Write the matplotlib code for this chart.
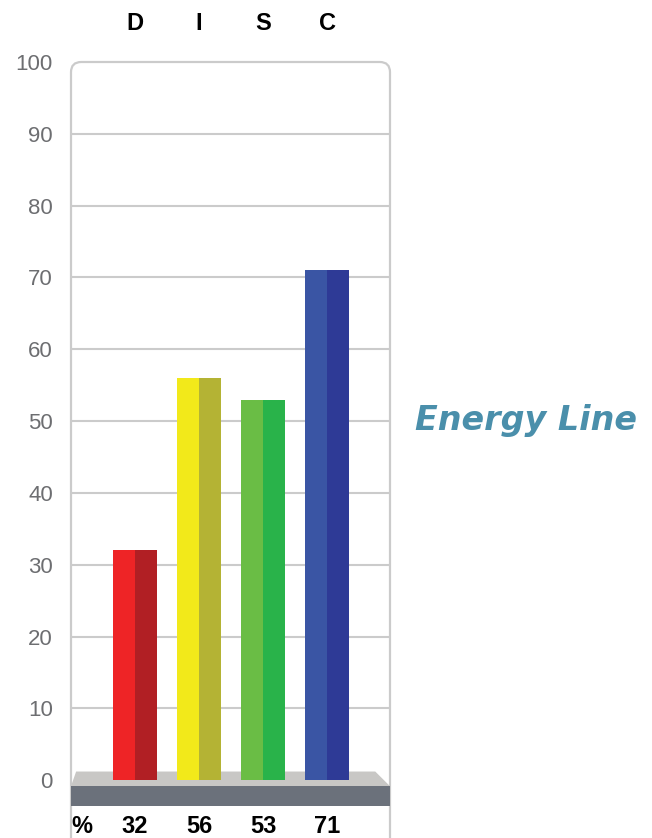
import matplotlib.pyplot as plt
from matplotlib.patches import FancyBboxPatch, Polygon, Rectangle
from matplotlib.transforms import blended_transform_factory

plt.rcParams['font.family'] = ['Liberation Sans', 'DejaVu Sans']

letters = ['D', 'I', 'S', 'C']
scores = [32, 56, 53, 71]
light_cols = ['#ee2426', '#f2e91a', '#6abd45', '#3a55a4']
dark_cols = ['#b11f24', '#b4b334', '#29b34a', '#2e3a96']
yticks = list(range(0, 101, 10))

GRID = '#cbcbcb'
XMIN, XMAX = -1.0, 3.98
YMIN, YMAX = -3.6, 100

fig = plt.figure(figsize=(6.52, 8.38), dpi=100)
ax = fig.add_axes([71 / 652, 32 / 838, 319 / 652, 744 / 838])
ax.set_xlim(XMIN, XMAX)
ax.set_ylim(YMIN, YMAX)
for s in ax.spines.values():
    s.set_visible(False)
ax.set_xticks([])
ax.set_yticks(yticks)
ax.tick_params(axis='y', length=0, pad=13, labelsize=16, labelcolor='#6d6e71')

# horizontal grid
for t in yticks[1:-1]:
    ax.plot([XMIN, XMAX], [t, t], color=GRID, lw=1.5, zorder=1, solid_capstyle='butt')

# rounded frame (x units per px / y units per px)
aspect = (1 / 7.18) / (1 / 64.0)
frame = FancyBboxPatch((XMIN, -15), XMAX - XMIN, YMAX + 15,
                       boxstyle='round,pad=0,rounding_size=0.16',
                       mutation_aspect=aspect, fill=False, ec=GRID, lw=1.6,
                       zorder=1, clip_on=False)
ax.add_patch(frame)

# floor
ax.add_patch(Polygon([(XMIN, -0.84), (XMIN + 0.08, 1.2), (XMAX - 0.23, 1.2), (XMAX, -0.84)],
                     closed=True, fc='#c8c7c5', ec='none', zorder=2, clip_on=False))
ax.add_patch(Rectangle((XMIN, YMIN), XMAX - XMIN, -0.84 - YMIN, fc='#6b717b', ec='none',
                       zorder=2, clip_on=False))

# two-tone bars
half = 0.344
xs = list(range(len(scores)))
ax.bar([x - half / 2 for x in xs], scores, width=half, color=light_cols, zorder=3)
ax.bar([x + half / 2 for x in xs], scores, width=half, color=dark_cols, zorder=3)

top = blended_transform_factory(ax.transData, fig.transFigure)
for x, lab, val in zip(xs, letters, scores):
    ax.text(x, 1 - 24 / 838, lab, transform=top, ha='center', va='center',
            fontsize=17, fontweight='bold', color='black')
    ax.text(x, 1 - 826 / 838, str(val), transform=top, ha='center', va='center',
            fontsize=17, fontweight='bold', color='black')
ax.text(82 / 652, 1 - 826 / 838, '%', transform=fig.transFigure, ha='center', va='center',
        fontsize=17, fontweight='bold', color='black')

fig.text(415 / 652, 1 - 420 / 838, 'Energy Line', ha='left', va='center',
         fontsize=24, fontweight='bold', fontstyle='italic', color='#4a8fab',
         family=['DejaVu Sans'])

fig.savefig('out.png', dpi=100)
